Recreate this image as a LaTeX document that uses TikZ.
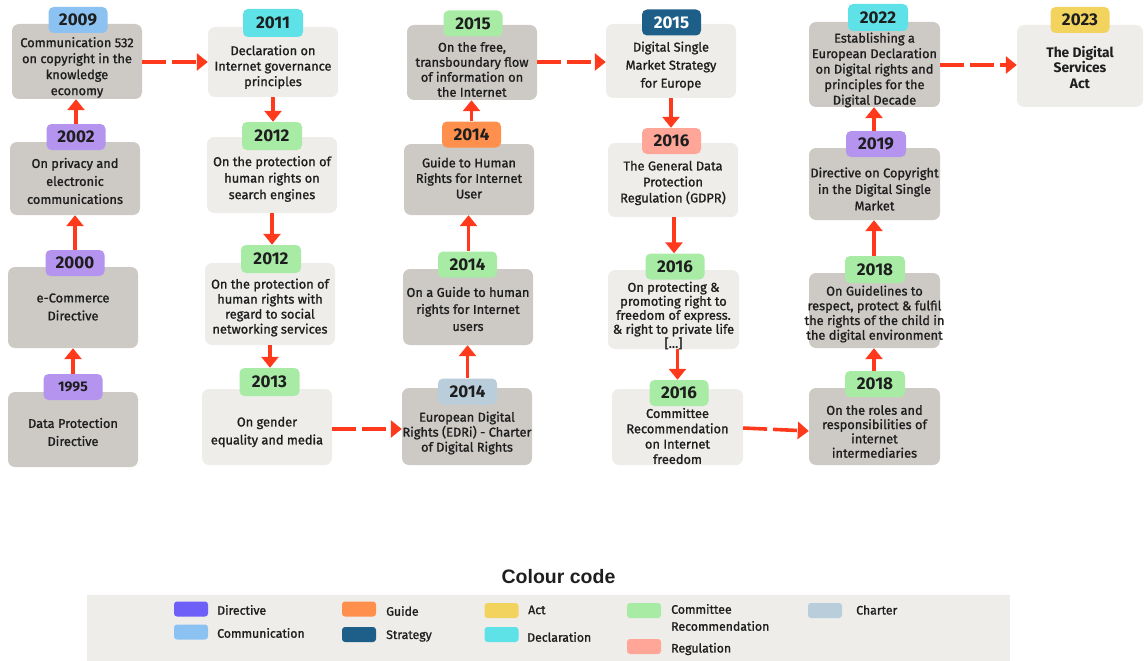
\documentclass[tikz,border=0pt]{standalone}
\usepackage{fontspec}
\setmainfont{Fira Sans}
\newfontfamily\medf{Fira Sans}[FakeBold=1.2]
\newfontfamily\arialf{Liberation Sans}
\usetikzlibrary{arrows.meta}
\definecolor{redA}{HTML}{FF3A1C}
\definecolor{grayD}{HTML}{CDCAC5}
\definecolor{grayL}{HTML}{EEEDEA}
\definecolor{txtc}{HTML}{1E1E1E}
\definecolor{cBlue}{HTML}{8CC2F2}
\definecolor{cPurple}{HTML}{B594EF}
\definecolor{cDirective}{HTML}{6E5FF8}
\definecolor{cCyan}{HTML}{5EE2E8}
\definecolor{cGreen}{HTML}{A7EBA5}
\definecolor{cOrange}{HTML}{FF8F4C}
\definecolor{cSteel}{HTML}{B9CDDB}
\definecolor{cDark}{HTML}{1E5F8A}
\definecolor{cSalmon}{HTML}{FFA698}
\definecolor{cYellow}{HTML}{F2D35E}
\newcommand\fs[1]{\medf\fontsize{12.8}{#1}\selectfont}
\newcommand\bodyfont{\fs{15.5}}
\newcommand\tagfont{\bfseries\fontsize{17}{19}\selectfont}
\begin{document}
\begin{tikzpicture}[x=1pt,y=-1pt,
  evbox/.style={rounded corners=7pt, minimum width=130pt, inner sep=0pt, draw=none},
  dk/.style={evbox, fill=grayD},
  lt/.style={evbox, fill=grayL},
  tag/.style={rounded corners=5pt, minimum width=59pt, minimum height=26pt, inner sep=0pt, font=\tagfont, text=txtc},
  txt/.style={align=center, inner sep=0pt, text=txtc, font=\bodyfont},
  arr/.style={draw=redA, line width=3.6pt, -{Triangle[length=11pt,width=17pt]}},
  darr/.style={arr, dash pattern=on 24pt off 6pt},
  sw/.style={rounded corners=3pt, minimum width=34pt, minimum height=15pt, inner sep=0pt},
  lab/.style={anchor=west, align=left, inner sep=0pt, text=txtc, font=\medf\fontsize{12.3}{17}\selectfont}
]
\useasboundingbox (0,0) rectangle (1144,661);

% ---------- column 1 ----------
\node[dk, minimum height=75pt] (b2009) at (77,61.5) {};
\node[dk, minimum height=73pt] (b2002) at (75,178.5) {};
\node[dk, minimum height=81pt] (b2000) at (73,307.5) {};
\node[dk, minimum height=75pt] (b1995) at (73,429.5) {};
% ---------- column 2 ----------
\node[lt, minimum height=70pt] (b2011) at (273,62) {};
\node[lt, minimum height=76pt] (b2012a) at (272,175) {};
\node[lt, minimum height=82pt] (b2012b) at (270,304) {};
\node[lt, minimum height=76pt] (b2013) at (267,427) {};
% ---------- column 3 ----------
\node[dk, minimum height=75pt] (b2015a) at (472,62.5) {};
\node[dk, minimum height=71pt] (b2014g) at (469,179.5) {};
\node[dk, minimum height=76pt] (b2014b) at (468,307) {};
\node[dk, minimum height=77pt] (bEDRi) at (467,426.5) {};
% ---------- column 4 ----------
\node[lt, minimum height=74pt] (bDSM) at (671,61) {};
\node[lt, minimum height=74pt] (bGDPR) at (673,180) {};
\node[lt, minimum height=79pt, minimum width=131pt] (b2016b) at (673.5,309.5) {};
\node[lt, minimum height=76pt, minimum width=131pt] (b2016c) at (677.5,427) {};
% ---------- column 5 ----------
\node[dk, minimum height=85pt, minimum width=131pt] (b2022) at (874.5,64.5) {};
\node[dk, minimum height=72pt, minimum width=131pt] (b2019) at (874.5,184) {};
\node[dk, minimum height=75pt, minimum width=131pt] (b2018a) at (874.5,310.5) {};
\node[dk, minimum height=77pt, minimum width=131pt] (b2018b) at (874.5,426.5) {};
\node[lt, minimum height=82pt, minimum width=126pt] (b2023) at (1080,66) {};

% ---------- texts ----------
\node[txt, font=\fs{16}] (t2009) at (77,67.5) {Communication 532\\on copyright in the\\knowledge\\economy};
\node[txt, font=\fs{18}] (t2002) at (75,181) {On privacy and\\electronic\\communications};
\node[txt, font=\fs{18}] (t2000) at (73,307) {e-Commerce\\Directive};
\node[txt, font=\fs{18}] (t1995) at (73,432) {Data Protection\\Directive};

\node[txt] (t2011) at (273,67) {Declaration on\\Internet governance\\principles};
\node[txt, font=\fs{16.5}] (t2012a) at (272,179) {On the protection of\\human rights on\\search engines};
\node[txt, font=\fs{15}] (t2012b) at (270,307.5) {On the protection of\\human rights with\\regard to social\\networking services};
\node[txt, font=\fs{18}] (t2013) at (267,432) {On gender\\equality and media};

\node[txt, font=\fs{15}] (t2015a) at (472,69.5) {On the free,\\transboundary flow\\of information on\\the Internet};
\node[txt] (t2014g) at (469,178) {Guide to Human\\Rights for Internet\\User};
\node[txt, font=\fs{17}] (t2014b) at (468,309) {On a Guide to human\\rights for Internet\\users};
\node[txt, font=\fs{15}] (tEDRi) at (467,433) {European Digital\\Rights (EDRi) - Charter\\of Digital Rights};

\node[txt, font=\fs{18}] (tDSM) at (671,66) {Digital Single\\Market Strategy\\for Europe};
\node[txt, font=\fs{16}] (tGDPR) at (673,183) {The General Data\\Protection\\Regulation (GDPR)};
\node[txt, font=\fs{14}] (t2016b) at (673.5,315.5) {On protecting \&\\promoting right to\\freedom of express.\\\& right to private life\\{[\dots]}};
\node[txt, font=\fs{15.3}] (t2016c) at (677.5,436) {Committee\\Recommendation\\on Internet\\freedom};

\node[txt] (t2022) at (874.5,70) {Establishing a\\European Declaration\\on Digital rights and\\principles for the\\Digital Decade};
\node[txt, font=\fs{16.5}] (t2019) at (874.5,189) {Directive on Copyright\\in the Digital Single\\Market};
\node[txt, font=\fs{14.7}] (t2018a) at (874.5,314) {On Guidelines to\\respect, protect \& fulfil\\the rights of the child in\\the digital environment};
\node[txt, font=\fs{14.3}] (t2018b) at (874.5,431.5) {On the roles and\\responsibilities of\\internet\\intermediaries};
\node[txt, font=\bfseries\fontsize{13.8}{15.5}\selectfont] (t2023) at (1080,67.5) {The Digital\\Services\\Act};

% ---------- arrows ----------
\draw[darr] (b2009.east |- 0,62) -- (b2011.west |- 0,62);
\draw[darr] (b2013.east |- 0,429) -- (bEDRi.west |- 0,429);
\draw[darr] (b2015a.east |- 0,62) -- (bDSM.west |- 0,62);
\draw[darr] (b2016c.east |- 0,428) -- (b2018b.west |- 0,431);
\draw[darr] (b2022.east |- 0,65) -- (b2023.west |- 0,65);

% ---------- tags ----------
\node[tag, fill=cBlue] (y2009) at (78,20) {2009};
\node[tag, fill=cPurple] (y2002) at (76,137) {2002};
\node[tag, fill=cPurple] (y2000) at (75,263) {2000};
\node[tag, fill=cPurple, font=\bfseries\fontsize{14}{16}\selectfont] (y1995) at (73,387) {1995};
\node[tag, fill=cCyan, minimum width=60pt, minimum height=28pt] (y2011) at (273,23) {2011};
\node[tag, fill=cGreen, minimum width=60pt, minimum height=28pt] (y2012a) at (272,136) {2012};
\node[tag, fill=cGreen, minimum width=60pt, minimum height=28pt] (y2012b) at (271,259) {2012};
\node[tag, fill=cGreen, minimum width=60pt, minimum height=28pt] (y2013) at (269.5,382) {2013};
\node[tag, fill=cGreen] (y2015a) at (473,23.5) {2015};
\node[tag, fill=cOrange] (y2014g) at (471.5,134.5) {2014};
\node[tag, fill=cGreen] (y2014b) at (467.5,264.5) {2014};
\node[tag, fill=cSteel] (yEDRi) at (467.5,391.5) {2014};
\node[tag, fill=cDark, text=white] (yDSM) at (671.5,22.5) {2015};
\node[tag, fill=cSalmon] (yGDPR) at (671.5,141) {2016};
\node[tag, fill=cGreen] (y2016b) at (675,266.5) {2016};
\node[tag, fill=cGreen] (y2016c) at (679,393) {2016};
\node[tag, fill=cCyan, minimum width=60pt, minimum height=27pt] (y2022) at (878,17.5) {2022};
\node[tag, fill=cPurple, minimum width=60pt] (y2019) at (876,144) {2019};
\node[tag, fill=cGreen, minimum width=60pt, minimum height=27pt] (y2018a) at (875,269.5) {2018};
\node[tag, fill=cGreen, minimum width=60pt] (y2018b) at (875,384) {2018};
\node[tag, fill=cYellow] (y2023) at (1080,20) {2023};

% solid arrows
\draw[arr] (y2002.north) -- (y2002.north |- b2009.south);
\draw[arr] (y2000.north) -- (y2000.north |- b2002.south);
\draw[arr] (y1995.north) -- (y1995.north |- b2000.south);
\draw[arr] (b2011.south) -- (b2011.south |- y2012a.north);
\draw[arr] (b2012a.south) -- (b2012a.south |- y2012b.north);
\draw[arr] (b2012b.south) -- (b2012b.south |- y2013.north);
\draw[arr] (yEDRi.north) -- (yEDRi.north |- b2014b.south);
\draw[arr] ([xshift=1pt]y2014b.north) -- ([xshift=1pt]y2014b.north |- b2014g.south);
\draw[arr] (y2014g.north) -- (y2014g.north |- b2015a.south);
\draw[arr] (bDSM.south) -- (bDSM.south |- yGDPR.north);
\draw[arr] ([xshift=1pt]bGDPR.south) -- ([xshift=1pt]bGDPR.south |- y2016b.north);
\draw[arr] ([xshift=4pt]b2016b.south) -- ([xshift=4pt]b2016b.south |- y2016c.north);
\draw[arr] ([xshift=-1pt]y2018b.north) -- ([xshift=-1pt]y2018b.north |- b2018a.south);
\draw[arr] ([xshift=-1pt]y2018a.north) -- ([xshift=-1pt]y2018a.north |- b2019.south);
\draw[arr] ([xshift=-2pt]y2019.north) -- ([xshift=-2pt]y2019.north |- b2022.south);

% ---------- legend ----------
\node[font=\arialf\bfseries\fontsize{19.5}{22}\selectfont, text=txtc] (legtitle) at (558.5,577) {Colour code};
\node[fill=grayL, minimum width=923pt, minimum height=66pt, inner sep=0pt] (legbg) at (548.5,628) {};
\node[sw, fill=cDirective] (swDir) at (191,609) {};
\node[lab] (lDir) at (217,610) {Directive};
\node[sw, fill=cBlue] (swCom) at (191,632) {};
\node[lab] (lCom) at (217,633) {Communication};
\node[sw, fill=cOrange] (swGui) at (359,609) {};
\node[lab] (lGui) at (386,611) {Guide};
\node[sw, fill=cDark] (swStr) at (359,634.5) {};
\node[lab] (lStr) at (386,636) {Strategy};
\node[sw, fill=cYellow] (swAct) at (501.5,610.5) {};
\node[lab] (lAct) at (528,610) {Act};
\node[sw, fill=cCyan] (swDec) at (501.5,634.5) {};
\node[lab] (lDec) at (527,637) {Declaration};
\node[sw, fill=cGreen] (swCR) at (644,610.5) {};
\node[lab] (lCR) at (671,617.5) {Committee\\Recommendation};
\node[sw, fill=cSalmon] (swReg) at (644,646.5) {};
\node[lab] (lReg) at (671,649) {Regulation};
\node[sw, fill=cSteel] (swCh) at (825,610.5) {};
\node[lab] (lCh) at (856,610) {Charter};
\end{tikzpicture}
\end{document}
